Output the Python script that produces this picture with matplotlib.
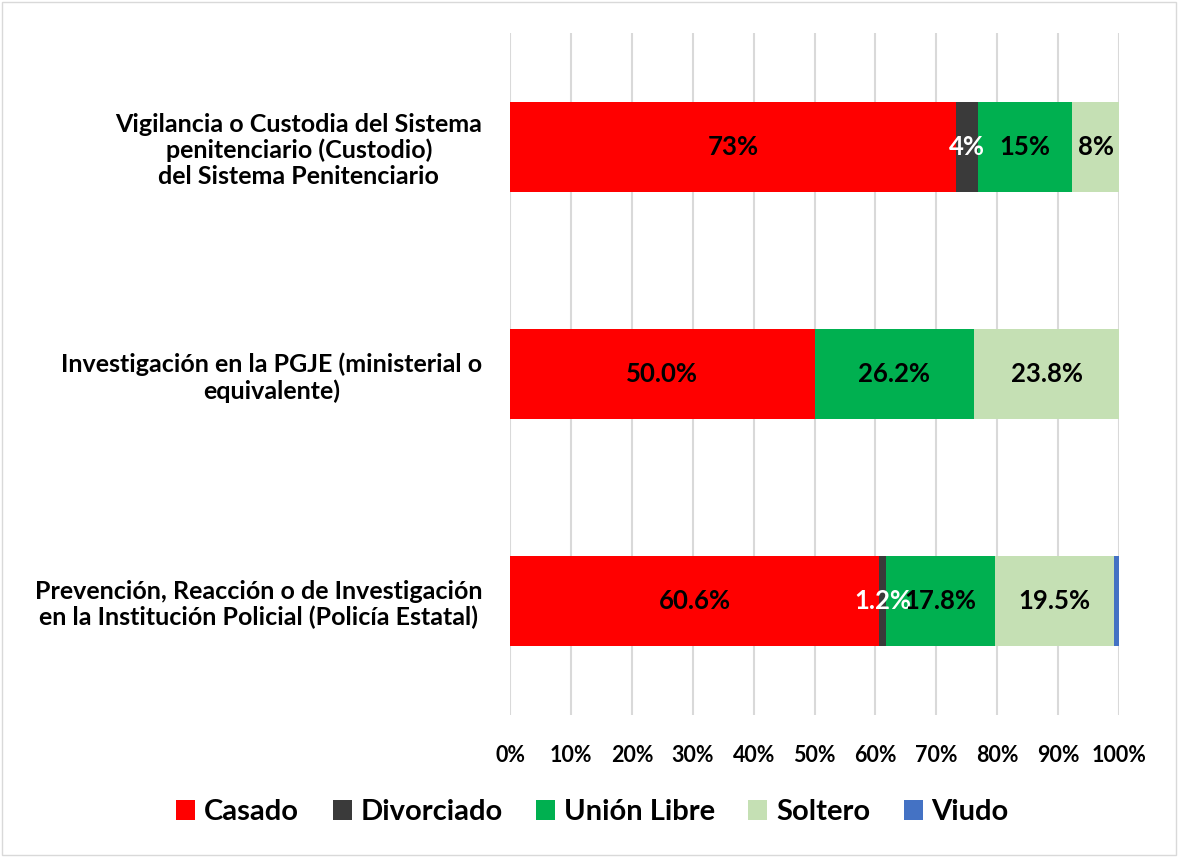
import matplotlib.pyplot as plt
import numpy as np

plt.rcParams['font.family'] = ['Lato', 'DejaVu Sans']
plt.rcParams['font.weight'] = 'bold'

categorias = [
    'Prevención, Reacción o de Investigación\nen la Institución Policial (Policía Estatal)',
    'Investigación en la PGJE (ministerial o\nequivalente)',
    'Vigilancia o Custodia del Sistema\npenitenciario (Custodio)\ndel Sistema Penitenciario',
]
series = ['Casado', 'Divorciado', 'Unión Libre', 'Soltero', 'Viudo']
colores = ['#FF0000', '#3A3A3A', '#00B050', '#C5E0B4', '#4472C4']

casado = [60.6, 50.0, 73.2]
divorciado = [1.2, 0.0, 3.6]
union_libre = [17.8, 26.2, 15.5]
soltero = [19.5, 23.8, 7.7]
viudo = [0.9, 0.0, 0.0]

etiquetas = [
    ['60.6%', '50.0%', '73%'],
    ['1.2%', '', '4%'],
    ['17.8%', '26.2%', '15%'],
    ['19.5%', '23.8%', '8%'],
    ['', '', ''],
]
color_texto = ['black', 'white', 'black', 'black', 'black']

valores = [casado, divorciado, union_libre, soltero, viudo]

fig = plt.figure(figsize=(11.78, 8.57), dpi=100)
ax = fig.add_axes([0.433, 0.166, 0.517, 0.795])

y = np.arange(len(categorias))
izq = np.zeros(len(categorias))
for nombre, vals, col, etq, ct in zip(series, valores, colores, etiquetas, color_texto):
    vals = np.array(vals)
    bars = ax.barh(y, vals, left=izq, height=0.395, color=col, label=nombre, zorder=3)
    for i, b in enumerate(bars):
        if etq[i]:
            ax.text(izq[i] + vals[i] / 2, y[i], etq[i], ha='center', va='center',
                    color=ct, fontsize=18.5, fontweight='bold', zorder=4)
    izq += vals

ax.set_xlim(0, 100)
ax.set_ylim(-0.5, 2.5)
ax.set_xticks(np.arange(0, 101, 10))
ax.set_xticklabels([f'{v}%' for v in range(0, 101, 10)], fontsize=15.5, fontweight='bold')
ax.set_yticks(y)
ax.set_yticklabels(categorias, fontsize=18, fontweight='bold', multialignment='center',
                   linespacing=1.15)
ax.tick_params(axis='both', length=0)
ax.tick_params(axis='x', pad=22)
ax.tick_params(axis='y', pad=20)
ax.grid(axis='x', color='#D9D9D9', linewidth=1.5, zorder=0)
for s in ax.spines.values():
    s.set_visible(False)

fig.legend(loc='center', bbox_to_anchor=(0.503, 0.052), ncol=5, frameon=False,
           prop={'size': 21, 'weight': 'bold'}, handlelength=0.65, handleheight=0.65,
           columnspacing=1.15, handletextpad=0.3)

fig.patches.append(plt.Rectangle((0.002, 0.002), 0.996, 0.996, transform=fig.transFigure,
                                 fill=False, edgecolor='#D9D9D9', linewidth=1))

fig.savefig('out.png', dpi=100)
